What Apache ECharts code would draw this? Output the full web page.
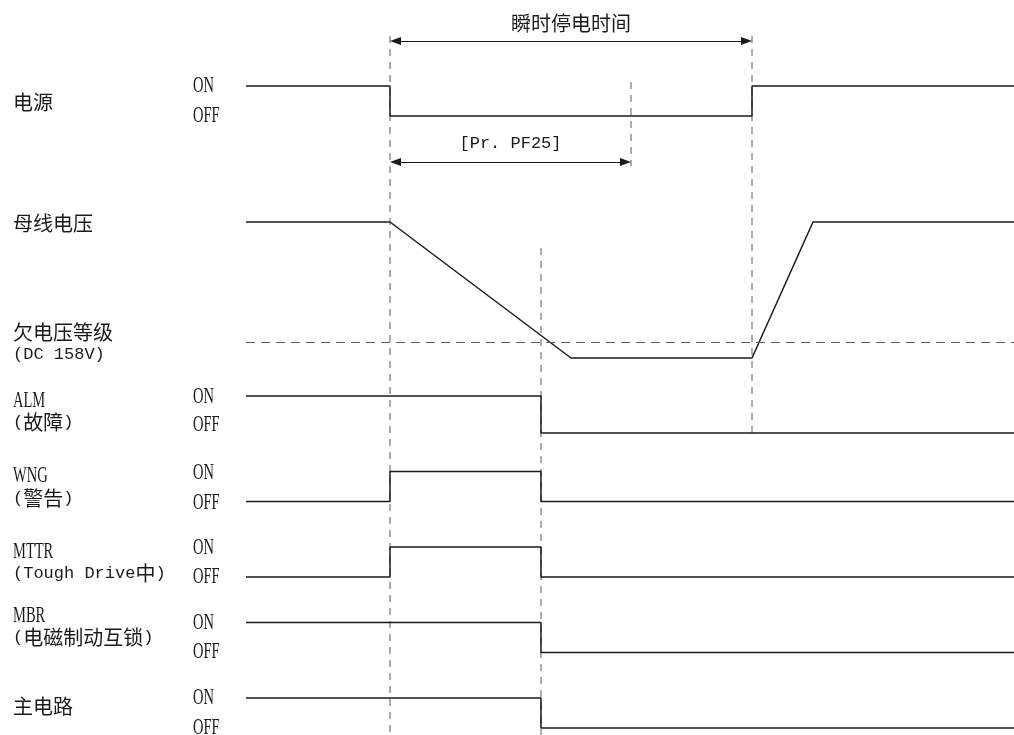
<!DOCTYPE html>
<html>
<head>
<meta charset="utf-8">
<script src="https://cdn.jsdelivr.net/npm/echarts@6/dist/echarts.min.js"></script>
<style>
html, body { margin: 0; padding: 0; background: #fff; }
#main { width: 1014px; height: 735px; }
</style>
</head>
<body>
<div id="main"></div>
<script>
// time runs 0 .. 768 (arbitrary units) from the left end of the traces
var tEnd = 768;

// signal levels: 1 = ON, 0 = OFF, given at the points where they change
var powerSignal = [[0, 1], [144, 0], [506, 1], [768, 1]];
var almSignal   = [[0, 1], [295, 0], [768, 0]];
var wngSignal   = [[0, 0], [144, 1], [295, 0], [768, 0]];
var mttrSignal  = [[0, 0], [144, 1], [295, 0], [768, 0]];
var mbrSignal   = [[0, 1], [295, 0], [768, 0]];
var mainSignal  = [[0, 1], [295, 0], [768, 0]];

// bus voltage (V)
var busVoltage = [[0, 300], [144, 300], [325, 140], [506, 140], [567, 300], [768, 300]];
var underVoltage = 158;

// event times for the dashed guide lines
var tPowerOff = 144;
var tAlarm = 295;
var tPF25 = 385;
var tPowerOn = 506;

// layout of each trace row (pixels)
var rows = [
    { data: powerSignal, top: 86,    height: 30,  min: 0,   max: 1 },
    { data: busVoltage,  top: 222,   height: 136, min: 140, max: 300, bus: true },
    { data: almSignal,   top: 396,   height: 37,  min: 0,   max: 1 },
    { data: wngSignal,   top: 471.5, height: 30,  min: 0,   max: 1 },
    { data: mttrSignal,  top: 547,   height: 30,  min: 0,   max: 1 },
    { data: mbrSignal,   top: 622.5, height: 30,  min: 0,   max: 1 },
    { data: mainSignal,  top: 698,   height: 30,  min: 0,   max: 1 }
];

var ink = '#1a1a1a';
var dashColor = '#5a5a5a';
var arrowLen = 11;

var myChart = echarts.init(document.getElementById('main'));

var grids = [], xAxes = [], yAxes = [], series = [];

// grid 0: overlay in pixel units for the guide lines and arrows
grids.push({ left: 246, right: 0, top: 0, height: 735 });
xAxes.push({ type: 'value', gridIndex: 0, min: 0, max: tEnd, show: false });
yAxes.push({ type: 'value', gridIndex: 0, min: 0, max: 735, inverse: true, show: false });

function guide(t, y0, y1) {
    return {
        type: 'line', xAxisIndex: 0, yAxisIndex: 0,
        data: [[t, y0], [t, y1]],
        symbol: 'none', silent: true, clip: false, z: 1,
        lineStyle: { color: dashColor, width: 1, type: [7, 6] }
    };
}
series.push(guide(tPowerOff, 36, 735));
series.push(guide(tAlarm, 248, 735));
series.push(guide(tPF25, 82, 166));
series.push(guide(tPowerOn, 36, 437));

// the two time spans with arrows (arrow heads are centred on the line ends,
// so pull the ends in by half a head so the tips touch the guide lines)
function span(t0, t1, y, label) {
    var h = arrowLen / 2;
    return [
        { coord: [t0 + h, y], label: label },
        { coord: [t1 - h, y] }
    ];
}
series.push({
    type: 'line', xAxisIndex: 0, yAxisIndex: 0, data: [], silent: true,
    markLine: {
        silent: true,
        symbol: ['triangle', 'triangle'],
        symbolSize: [8, arrowLen],
        lineStyle: { color: ink, width: 1.2, type: 'solid' },
        label: {
            show: true, position: 'insideMiddleTop', distance: 8,
            color: ink
        },
        data: [
            span(tPowerOff, tPowerOn, 41, { formatter: '瞬时停电时间', fontFamily: 'Noto Sans CJK SC', fontSize: 20 }),
            span(tPowerOff, tPF25, 162, { formatter: '[Pr. PF25]', fontFamily: 'Liberation Mono', fontSize: 17, distance: 10 })
        ]
    }
});

rows.forEach(function (r, i) {
    var gi = i + 1;
    grids.push({ left: 246, right: 0, top: r.top, height: r.height });
    xAxes.push({ type: 'value', gridIndex: gi, min: 0, max: tEnd, show: false });
    yAxes.push({ type: 'value', gridIndex: gi, min: r.min, max: r.max, show: false });
    var s = {
        type: 'line', xAxisIndex: gi, yAxisIndex: gi,
        data: r.data, symbol: 'none', clip: false, silent: true, z: 3,
        lineStyle: { color: ink, width: 1.5 }
    };
    if (!r.bus) s.step = 'end';
    if (r.bus) {
        s.markLine = {
            silent: true, symbol: 'none', label: { show: false },
            lineStyle: { color: dashColor, width: 1.2, type: [9, 6] },
            data: [{ yAxis: underVoltage }]
        };
    }
    series.push(s);
});

// left-hand texts
function mixed(s) {
    return s.replace(/[\u3400-\u9fff]+/g, function (m) { return '{c|' + m + '}'; });
}
function cjkText(x, y, s) {
    return { type: 'text', x: x, y: y, silent: true,
        style: { text: s, fill: ink, fontFamily: 'Noto Sans CJK SC', fontSize: 20,
                 textAlign: 'left', textVerticalAlign: 'middle', align: 'left', verticalAlign: 'middle' } };
}
function serifText(x, y, s) {
    return { type: 'text', x: x, y: y, scaleX: 0.63, silent: true,
        style: { text: s, fill: ink, fontFamily: 'Liberation Serif', fontSize: 23,
                 textAlign: 'left', textVerticalAlign: 'middle', align: 'left', verticalAlign: 'middle' } };
}
function mixedText(x, y, s) {
    return { type: 'text', x: x, y: y, silent: true,
        style: { text: mixed(s), fill: ink, fontFamily: 'Liberation Mono', fontSize: 17,
                 textAlign: 'left', textVerticalAlign: 'middle', align: 'left', verticalAlign: 'middle',
                 rich: { c: { fontFamily: 'Noto Sans CJK SC', fontSize: 20, fill: ink } } } };
}

var onOffY = [[86, 116], [397, 425], [473, 503], [548, 577], [623, 652], [698, 728]];
var graphics = [
    cjkText(13, 102, '电源'),
    cjkText(13, 223, '母线电压'),
    cjkText(13, 332, '欠电压等级'),
    mixedText(13, 354, '(DC 158V)'),
    serifText(13, 401, 'ALM'),
    mixedText(13, 422, '(故障)'),
    serifText(13, 476, 'WNG'),
    mixedText(13, 498, '(警告)'),
    serifText(13, 552, 'MTTR'),
    mixedText(13, 573, '(Tough Drive中)'),
    serifText(13, 616, 'MBR'),
    mixedText(13, 637, '(电磁制动互锁)'),
    cjkText(13, 706, '主电路')
];
onOffY.forEach(function (p) {
    graphics.push(serifText(193, p[0], 'ON'));
    graphics.push(serifText(193, p[1], 'OFF'));
});

var option = {
    animation: false,
    backgroundColor: '#fff',
    grid: grids,
    xAxis: xAxes,
    yAxis: yAxes,
    series: series,
    graphic: graphics
};

myChart.setOption(option);
</script>
</body>
</html>
